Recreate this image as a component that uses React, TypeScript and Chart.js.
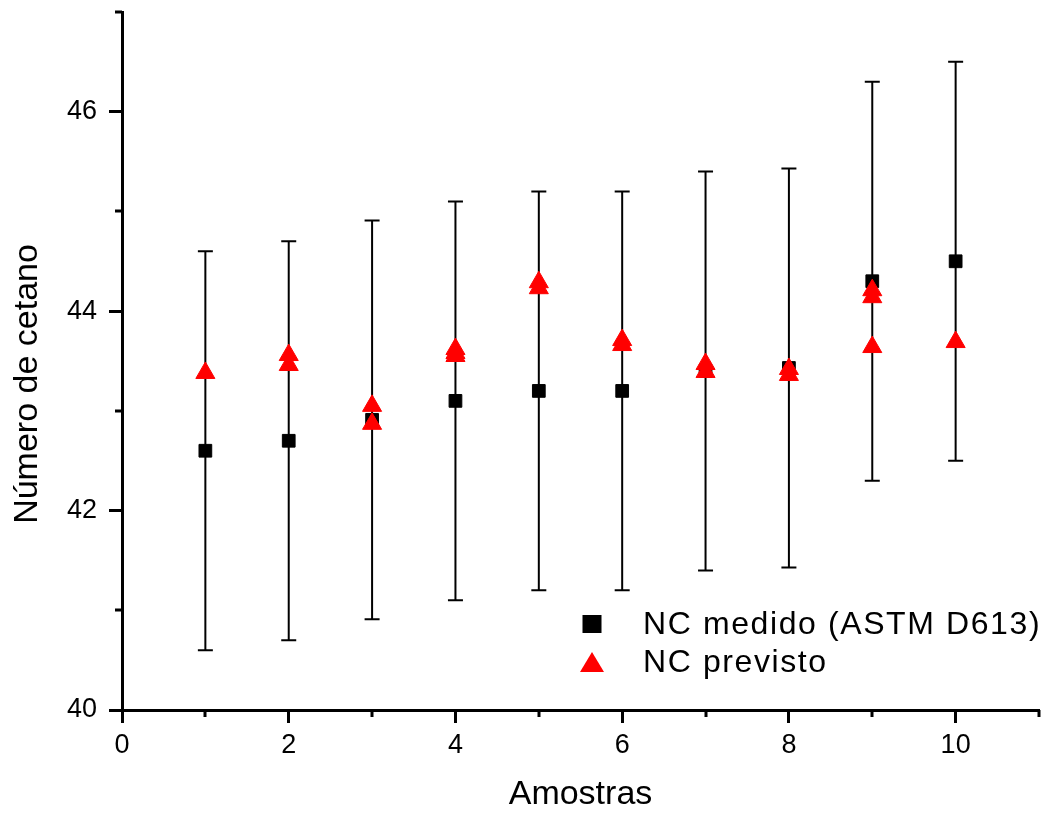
import React, { useEffect, useRef } from 'react';
import { Chart, registerables } from 'chart.js';
Chart.register(...registerables);

// ---- data ----
const sampleX = [1, 2, 3, 4, 5, 6, 7, 8, 9, 10];
const measuredNC = [42.6, 42.7, 42.91, 43.1, 43.2, 43.2, 43.4, 43.43, 44.3, 44.5];
const measuredErr = [2, 2, 2, 2, 2, 2, 2, 2, 2, 2];
const predictedX = [1, 2, 2, 3, 3, 4, 4, 4, 5, 5, 6, 6, 7, 7, 8, 8, 9, 9, 9, 10];
const predictedNC = [43.38, 43.56, 43.46, 43.05, 42.87, 43.62, 43.58, 43.55, 44.29, 44.23, 43.71, 43.66, 43.47, 43.39, 43.42, 43.36, 44.21, 44.14, 43.64, 43.69];
const xMinorTicks = [1, 3, 5, 7, 9, 11];
const yMinorTicks = [41, 43, 45, 47];
const seriesLabels = ['NC medido (ASTM D613)', 'NC previsto'];
const xTitle = 'Amostras';
const yTitle = 'Número de cetano';

const FONT = "'Liberation Sans', Arial, Helvetica, sans-serif";

const errorBarPlugin = {
  id: 'errorBars',
  beforeDatasetsDraw(chart: any) {
    const { ctx } = chart;
    const xs = chart.scales.x;
    const ys = chart.scales.y;
    ctx.save();
    ctx.strokeStyle = '#000';
    ctx.lineWidth = 2;
    sampleX.forEach((xv, i) => {
      const px = xs.getPixelForValue(xv);
      const top = ys.getPixelForValue(measuredNC[i] + measuredErr[i]);
      const bot = ys.getPixelForValue(measuredNC[i] - measuredErr[i]);
      ctx.beginPath();
      ctx.moveTo(px, top);
      ctx.lineTo(px, bot);
      ctx.moveTo(px - 7.5, top);
      ctx.lineTo(px + 7.5, top);
      ctx.moveTo(px - 7.5, bot);
      ctx.lineTo(px + 7.5, bot);
      ctx.stroke();
    });
    ctx.restore();
  },
};

const decorPlugin = {
  id: 'decor',
  afterDraw(chart: any) {
    const { ctx, chartArea } = chart;
    const xs = chart.scales.x;
    const ys = chart.scales.y;
    ctx.save();
    // minor ticks
    ctx.strokeStyle = '#000';
    ctx.lineWidth = 3;
    ctx.beginPath();
    xMinorTicks.forEach((v) => {
      const px = Math.round(xs.getPixelForValue(v));
      ctx.moveTo(px, chartArea.bottom);
      ctx.lineTo(px, chartArea.bottom + 7);
    });
    yMinorTicks.forEach((v) => {
      const py = Math.round(ys.getPixelForValue(v));
      ctx.moveTo(chartArea.left, py);
      ctx.lineTo(chartArea.left - 7, py);
    });
    ctx.stroke();

    // y title
    ctx.save();
    ctx.translate(28, 384);
    ctx.rotate(-Math.PI / 2);
    ctx.font = `34px ${FONT}`;
    ctx.fillStyle = '#000';
    ctx.textAlign = 'center';
    ctx.textBaseline = 'middle';
    ctx.fillText(yTitle, 0, 0);
    ctx.restore();

    // legend
    const mx = 592;
    const tx = 643;
    const row1 = 624;
    const row2 = 662;
    ctx.fillStyle = '#000';
    ctx.fillRect(mx - 9.5, row1 - 9, 19, 18);
    ctx.fillStyle = '#ff0000';
    ctx.beginPath();
    ctx.moveTo(mx, row2 - 10);
    ctx.lineTo(mx + 12, row2 + 10);
    ctx.lineTo(mx - 12, row2 + 10);
    ctx.closePath();
    ctx.fill();
    ctx.fillStyle = '#000';
    ctx.font = `32px ${FONT}`;
    (ctx as any).letterSpacing = '1.6px';
    ctx.textAlign = 'left';
    ctx.textBaseline = 'middle';
    ctx.fillText(seriesLabels[0], tx, row1 + 1);
    ctx.fillText(seriesLabels[1], tx, row2 + 1);
    ctx.restore();
  },
};

export default function App() {
  const ref = useRef<HTMLCanvasElement | null>(null);
  useEffect(() => {
    if (!ref.current) return;
    const chart = new Chart(ref.current, {
      type: 'scatter',
      data: {
        datasets: [
          {
            label: seriesLabels[0],
            data: sampleX.map((x, i) => ({ x, y: measuredNC[i] })),
            pointStyle: 'rect',
            pointRadius: 9,
            pointBackgroundColor: '#000',
            pointBorderColor: '#000',
            pointBorderWidth: 1,
            showLine: false,
            order: 2,
          },
          {
            label: seriesLabels[1],
            data: predictedX.map((x, i) => ({ x, y: predictedNC[i] })),
            pointStyle: 'triangle',
            pointRadius: 11,
            pointBackgroundColor: '#ff0000',
            pointBorderColor: '#ff0000',
            pointBorderWidth: 1,
            showLine: false,
            order: 1,
          },
        ],
      },
      options: {
        responsive: false,
        animation: false,
        events: [],
        layout: { padding: { top: 12, right: 12, left: 0, bottom: 0 } },
        plugins: {
          legend: { display: false },
          tooltip: { enabled: false },
        },
        scales: {
          x: {
            type: 'linear',
            min: 0,
            max: 11,
            afterFit: (s: any) => { s.height = 104; s.paddingLeft = 0; s.paddingRight = 0; },
            border: { display: true, color: '#000', width: 3 },
            grid: {
              display: true,
              drawOnChartArea: false,
              drawTicks: true,
              tickLength: 13,
              tickWidth: 3,
              tickColor: '#000',
              color: '#000',
            },
            ticks: {
              stepSize: 2,
              includeBounds: false,
              padding: 6,
              color: '#000',
              font: { family: FONT, size: 27 },
              maxRotation: 0,
              autoSkip: false,
            },
            title: {
              display: true,
              text: xTitle,
              color: '#000',
              font: { family: FONT, size: 34, lineHeight: 1 },
              padding: { top: 0, bottom: 2 },
            },
          },
          y: {
            type: 'linear',
            min: 40,
            max: 47,
            afterFit: (s: any) => { s.width = 122; s.paddingTop = 0; s.paddingBottom = 0; },
            border: { display: true, color: '#000', width: 3 },
            grid: {
              display: true,
              drawOnChartArea: false,
              drawTicks: true,
              tickLength: 13,
              tickWidth: 3,
              tickColor: '#000',
              color: '#000',
            },
            ticks: {
              stepSize: 2,
              includeBounds: false,
              padding: 12,
              color: '#000',
              font: { family: FONT, size: 27 },
              autoSkip: false,
            },
          },
        },
      },
      plugins: [errorBarPlugin, decorPlugin],
    });
    return () => chart.destroy();
  }, []);
  return (
    <div style={{ position: 'fixed', left: 0, top: 0, width: 1051, height: 814, background: '#fff' }}>
      <canvas ref={ref} width={1051} height={814} style={{ display: 'block' }} />
    </div>
  );
}
